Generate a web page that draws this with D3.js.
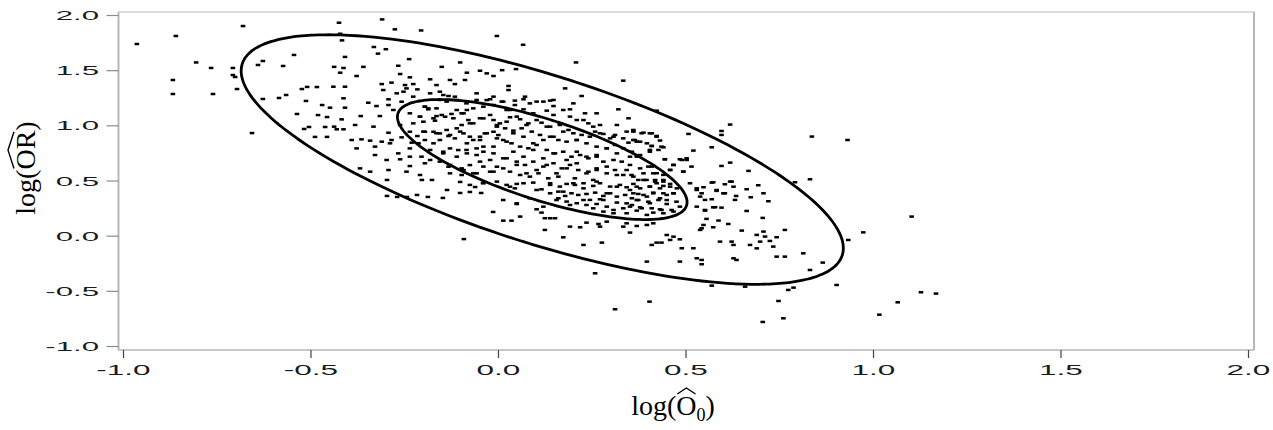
<!DOCTYPE html>
<html>
<head>
<meta charset="utf-8">
<script src="https://cdn.jsdelivr.net/npm/d3@7"></script>
<style>
  body { margin: 0; background: #fff; }
  svg { display: block; }
</style>
</head>
<body>
<div id="chart"></div>
<script>
// --- data ---
const xTicks = [-1.0, -0.5, 0.0, 0.5, 1.0, 1.5, 2.0];
const yTicks = [-1.0, -0.5, 0.0, 0.5, 1.0, 1.5, 2.0];

// [log(O0), log(OR)] pairs
const points = [
  [-0.963,1.737],[-0.859,1.810],[-0.680,1.900],[-0.805,1.570],[-0.765,1.520],[-0.867,1.411],[-0.867,1.284],[-0.760,1.284],
  [-0.707,1.520],[-0.707,1.456],[-0.701,1.438],[-0.696,1.329],[-0.640,1.547],[-0.627,1.583],[-0.573,1.538],[-0.544,1.638],
  [-0.627,1.239],[-0.584,1.248],[-0.565,1.275],[-0.523,1.329],[-0.509,1.348],[-0.512,1.221],[-0.536,1.103],[-0.504,0.985],
  [-0.517,0.967],[-0.656,0.930],
  [-0.483,1.347],[-0.469,1.184],[-0.480,1.093],[-0.456,1.075],[-0.461,0.985],[-0.488,0.895],[-0.456,0.895],
  [-0.424,1.93],[-0.309,1.96],[-0.275,1.87],[-0.205,1.86],[-0.421,1.83],[-0.416,1.77],[-0.003,1.81],[-0.331,1.71],
  [-0.299,1.69],[-0.32,1.65],[-0.237,1.60],[-0.408,1.62],[0.067,1.73],[0.208,1.57],[0.011,1.50],[0.048,1.51],
  [-0.437,1.53],[-0.412,1.52],[-0.359,1.53],[-0.266,1.54],[-0.150,1.53],[-0.101,1.57],
  [-0.421,1.477],[-0.377,1.447],[-0.261,1.465],[-0.235,1.435],[-0.181,1.417],[-0.128,1.411],[-0.115,1.374],[-0.088,1.411],
  [-0.083,1.477],[-0.048,1.495],[-0.030,1.471],[-0.012,1.447],
  [-0.439,1.350],[-0.408,1.350],[-0.310,1.374],[-0.284,1.387],[-0.306,1.320],[-0.248,1.365],[-0.226,1.374],[-0.244,1.335],
  [-0.215,1.326],[-0.270,1.290],[-0.252,1.305],[-0.226,1.260],[-0.181,1.290],[-0.164,1.365],[-0.155,1.305],[-0.146,1.275],
  [-0.132,1.266],[-0.115,1.260],[-0.057,1.290],[-0.030,1.229],[-0.012,1.260],
  [-0.412,1.245],[-0.346,1.205],[-0.292,1.236],[-0.257,1.214],[-0.292,1.184],[-0.448,1.160],[-0.408,1.160],[-0.324,1.175],
  [-0.279,1.139],[-0.195,1.169],[-0.186,1.145],[-0.164,1.154],[-0.141,1.078],[-0.124,1.103],[-0.110,1.139],[-0.097,1.109],
  [-0.083,1.139],[-0.066,1.154],[-0.039,1.169],[-0.012,1.184],
  [-0.235,1.109],[-0.208,1.078],[-0.226,1.018],[-0.199,1.033],[-0.168,1.042],[-0.164,1.084],[-0.366,1.084],[-0.315,1.084],
  [-0.417,1.054],[-0.437,0.988],[-0.381,1.003],[-0.332,0.988],[-0.292,0.933],[-0.261,1.003],[-0.235,0.942],[-0.215,0.903],
  [-0.195,0.942],[-0.172,0.942],[-0.155,0.927],[-0.137,0.958],[-0.110,0.973],[-0.097,1.003],[-0.079,1.048],[-0.066,1.018],
  [-0.039,1.063],[-0.012,1.048],[-0.003,1.003],
  [-0.430,0.964],[-0.412,0.964],[-0.390,0.867],[-0.364,0.873],[-0.341,0.861],[-0.310,0.852],[-0.284,0.867],[-0.257,0.891],
  [-0.230,0.843],[-0.235,0.791],[-0.212,0.837],[-0.195,0.867],[-0.172,0.837],[-0.155,0.867],[-0.132,0.903],[-0.115,0.882],
  [-0.092,0.927],[-0.083,0.837],[-0.066,0.867],[-0.048,0.897],[-0.035,0.927],[-0.012,0.942],[0.001,0.912],
  [-0.377,0.791],[-0.328,0.807],[-0.288,0.837],[-0.266,0.746],[-0.235,0.716],[-0.204,0.716],[-0.181,0.686],[-0.146,0.761],
  [-0.128,0.791],[-0.106,0.776],[-0.083,0.746],[-0.057,0.791],[-0.039,0.761],[-0.012,0.807],
  [-0.328,0.731],[-0.297,0.686],[-0.261,0.692],[-0.235,0.631],[-0.195,0.656],[-0.155,0.671],[-0.132,0.625],[-0.097,0.610],
  [-0.075,0.640],[-0.048,0.671],[-0.021,0.686],[-0.003,0.625],
  [-0.368,0.610],[-0.341,0.580],[-0.292,0.595],[-0.244,0.580],[-0.208,0.550],[-0.128,0.565],[-0.097,0.550],[-0.057,0.565],
  [-0.021,0.580],
  [-0.296,0.505],[-0.203,0.505],[-0.176,0.505],[-0.296,0.360],[-0.269,0.351],[-0.243,0.351],[-0.216,0.369],[-0.187,0.351],
  [-0.147,0.342],[-0.136,0.414],[-0.101,0.387],[-0.075,0.396],[-0.045,0.387],[-0.101,0.487],[-0.075,0.460],[-0.061,0.441],
  [-0.040,0.478],[-0.013,0.215],
  [0.028,1.357],[0.028,1.320],[0.179,1.335],[0.334,1.405],[0.223,1.266],[0.072,1.260],[0.103,1.215],[0.139,1.224],
  [0.148,1.175],[0.045,1.224],[0.045,1.184],[0.014,1.215],[0.023,1.139],[0.068,1.145],[0.094,1.109],[0.130,1.133],
  [0.148,1.094],[0.192,1.145],[0.232,1.109],[0.263,1.109],[0.321,1.145],[0.348,1.064],[0.423,1.133],[0.210,1.048],
  [0.241,1.018],[0.272,1.003],[0.317,1.003],[0.361,0.958],[0.388,0.934],[0.032,1.073],[0.059,1.055],[0.081,1.018],
  [0.116,1.024],[0.139,0.988],[0.165,1.003],[0.188,0.958],[0.201,0.928],[0.223,0.913],[0.259,0.943],[0.281,0.922],
  [0.299,0.882],[0.312,0.913],[0.334,0.882],[0.348,0.843],[0.370,0.852],[0.397,0.837],[0.005,1.018],[0.019,0.973],
  [0.041,0.952],[0.063,0.973],[0.090,0.943],[0.112,0.913],[0.139,0.897],[0.161,0.867],[0.183,0.852],[0.210,0.867],
  [0.236,0.837],[0.263,0.807],[0.290,0.792],[0.312,0.822],[0.334,0.792],[0.357,0.761],[0.379,0.731],[0.405,0.761],
  [0.014,0.867],[0.036,0.837],[0.059,0.807],[0.081,0.792],[0.103,0.822],[0.130,0.777],[0.152,0.746],[0.174,0.761],
  [0.196,0.716],[0.219,0.731],[0.241,0.701],[0.263,0.716],[0.281,0.671],[0.308,0.686],[0.330,0.671],[0.352,0.641],
  [0.379,0.610],[0.401,0.626],[0.023,0.701],[0.050,0.671],[0.072,0.641],[0.094,0.671],[0.121,0.626],[0.148,0.656],
  [0.170,0.610],[0.192,0.641],[0.214,0.595],[0.241,0.580],[0.263,0.610],[0.290,0.565],[0.312,0.595],[0.334,0.550],
  [0.361,0.535],[0.388,0.505],[0.032,0.580],[0.059,0.550],[0.085,0.535],[0.108,0.565],[0.134,0.520],[0.161,0.535],
  [0.205,0.520],[0.254,0.505],
  [0.023,0.460],[0.050,0.469],[0.094,0.481],[0.139,0.475],[0.165,0.445],[0.183,0.469],[0.205,0.460],[0.228,0.475],
  [0.254,0.451],[0.272,0.475],[0.299,0.445],[0.325,0.460],[0.343,0.439],[0.361,0.469],[0.379,0.429],[0.405,0.445],
  [0.423,0.475],[0.441,0.451],[0.459,0.469],[0.477,0.429],[0.512,0.475],[0.530,0.429],[0.045,0.429],[0.116,0.420],
  [0.139,0.384],[0.161,0.399],[0.179,0.360],[0.196,0.384],[0.214,0.369],[0.236,0.378],[0.259,0.390],[0.281,0.360],
  [0.299,0.384],[0.317,0.354],[0.339,0.369],[0.357,0.339],[0.374,0.378],[0.397,0.354],[0.414,0.390],[0.432,0.339],
  [0.450,0.369],[0.468,0.384],[0.161,0.339],[0.245,0.324],[0.272,0.330],[0.183,0.309],[0.210,0.294],[0.236,0.278],
  [0.263,0.287],[0.290,0.263],[0.317,0.300],[0.334,0.248],[0.357,0.278],[0.379,0.257],[0.405,0.294],[0.432,0.239],
  [0.450,0.287],[0.468,0.218],[0.485,0.263],[0.281,0.218],[0.308,0.203],[0.343,0.203],[0.370,0.227],[0.397,0.188],
  [0.414,0.209],[0.441,0.203],[0.050,0.287],[0.103,0.239],
  [0.014,0.136],[0.036,0.136],[0.059,0.173],[0.116,0.209],[0.125,0.158],[0.139,0.158],[0.152,0.158],[0.192,0.082],
  [0.219,0.076],[0.236,0.118],[0.268,0.106],[0.272,0.082],[0.290,0.127],[0.334,0.082],[0.343,0.112],[0.352,0.028],
  [0.370,0.088],[0.397,0.097],[0.414,0.112],[0.450,0.006],[0.459,-0.039],[0.468,-0.009],[0.485,-0.033],[0.490,-0.114],
  [0.410,-0.084],[0.423,-0.063],[0.436,-0.063],[0.277,-0.063],[0.228,-0.084],[0.125,0.052],[0.174,-0.015],[0.397,-0.235],
  [0.485,-0.235],[0.259,-0.341],[0.530,-0.205],[0.539,0.052],[0.521,-0.114],
  [0.619,1.007],[0.596,0.949],[0.596,0.913],[0.508,0.922],[0.837,0.898],[0.405,0.928],[0.423,0.904],[0.432,0.862],
  [0.410,0.813],[0.441,0.801],[0.521,0.771],[0.570,0.801],[0.445,0.693],[0.468,0.641],[0.485,0.693],[0.503,0.686],
  [0.516,0.626],[0.619,0.662],[0.596,0.632],[0.668,0.587],[0.494,0.581],[0.459,0.596],[0.423,0.566],[0.410,0.626],
  [0.441,0.551],[0.832,0.511],[0.419,0.505],[0.441,0.505],[0.792,0.484],[0.574,0.484],[0.605,0.466],[0.623,0.490],
  [0.694,0.457],[0.663,0.421],[0.583,0.406],[0.605,0.384],[0.635,0.360],[0.632,0.324],[0.708,0.384],[0.674,0.348],
  [0.721,0.312],[0.548,0.439],[0.539,0.354],[0.552,0.324],[0.570,0.330],[0.552,0.233],[0.579,0.258],[0.596,0.254],
  [0.663,0.224],[0.706,0.161],[0.556,0.152],[0.588,0.137],[0.548,0.097],[0.574,0.076],[0.543,0.067],[0.614,0.106],
  [0.650,0.046],[0.708,0.037],[0.765,0.052],[0.690,0.007],[0.712,-0.008],[0.743,-0.014],
  [0.932,0.867],
  [1.103,0.173],[0.974,0.030],[0.934,-0.039],[0.814,-0.160],[0.866,-0.244],[0.832,-0.311],[0.903,-0.447],[0.788,-0.471],
  [0.774,-0.492],[0.748,-0.592],[0.761,-0.749],[0.706,-0.782],[0.404,-0.598],[1.017,-0.716],[1.066,-0.604],[1.128,-0.513],
  [1.168,-0.525],[0.699,-0.054],[0.725,-0.048],[0.734,-0.099],[0.765,-0.190],[0.743,-0.190],[0.690,-0.115],[0.672,-0.084],
  [0.623,-0.054],[0.592,-0.054],[0.628,-0.084],[0.628,-0.205],[0.636,-0.220],[0.543,-0.220],[0.543,-0.259],[0.570,-0.453],
  [0.659,-0.462],
  [-0.091,-0.031],[0.312,-0.667],
  // dense core, second pass
  [-0.195,1.169],[-0.186,1.154],[-0.155,1.230],[-0.137,1.215],[-0.110,1.230],[-0.084,1.199],[-0.057,1.230],[-0.021,1.236],
  [0.010,1.215],[0.032,1.139],[0.068,1.236],[0.085,1.199],[0.121,1.215],[0.148,1.230],[0.174,1.139],[0.201,1.199],
  [-0.208,1.079],[-0.172,1.064],[-0.150,1.094],[-0.119,1.064],[-0.092,1.109],[-0.075,1.018],[-0.048,1.064],[-0.021,1.094],
  [-0.003,0.988],[0.023,1.033],[0.050,1.079],[0.076,1.003],[0.103,1.048],[0.130,0.988],[0.165,1.018],[0.192,1.079],
  [0.228,1.048],[0.254,0.988],
  [-0.199,0.943],[-0.164,0.928],[-0.128,0.913],[-0.101,0.943],[-0.075,0.897],[-0.048,0.867],[-0.030,0.928],[-0.003,0.882],
  [0.023,0.852],[0.041,0.928],[0.068,0.897],[0.094,0.837],[0.121,0.867],[0.148,0.897],[0.174,0.943],[0.210,0.867],
  [0.245,0.897],[0.272,0.928],[0.308,0.897],[0.343,0.943],[0.365,0.867],
  [-0.181,0.777],[-0.146,0.746],[-0.110,0.716],[-0.084,0.777],[-0.057,0.731],[-0.039,0.807],[-0.012,0.746],[0.014,0.701],
  [0.041,0.761],[0.068,0.716],[0.094,0.777],[0.121,0.701],[0.148,0.746],[0.183,0.686],[0.210,0.761],[0.236,0.716],
  [0.263,0.731],[0.290,0.792],[0.317,0.746],[0.352,0.716],
  [-0.128,0.641],[-0.092,0.595],[-0.066,0.565],[-0.039,0.626],[-0.012,0.580],[0.014,0.610],[0.050,0.641],[0.076,0.565],
  [0.103,0.595],[0.130,0.641],[0.156,0.565],[0.183,0.610],[0.210,0.656],[0.236,0.565],[0.263,0.595],[0.290,0.626],
  [0.317,0.550],[0.343,0.595],
  [-0.039,0.475],[-0.003,0.490],[0.032,0.444],[0.068,0.475],[0.103,0.414],[0.139,0.460],[0.174,0.399],[0.201,0.475],
  [0.228,0.429],[0.263,0.490],[0.290,0.384],[0.317,0.444],[0.352,0.414],
  [0.014,0.323],[0.050,0.293],[0.085,0.339],[0.121,0.263],[0.156,0.323],[0.192,0.278],[0.228,0.323],[0.254,0.248],
  [0.281,0.323],[0.308,0.233],[0.343,0.293],[0.370,0.323],
  [0.361,0.943],[0.383,0.928],[0.410,0.928],[0.423,0.897],[0.361,0.867],[0.379,0.852],[0.410,0.813],[0.436,0.807],
  [0.405,0.777],[0.428,0.777],[0.370,0.716],[0.445,0.692],[0.468,0.641],[0.490,0.686],[0.503,0.701],[0.459,0.595],
  [0.494,0.580],[0.356,0.550],[0.388,0.565],[0.414,0.565],[0.374,0.505],[0.396,0.505],[0.419,0.490],[0.441,0.490],
  [0.370,0.444],[0.405,0.444],[0.432,0.429],[0.459,0.444],[0.361,0.384],[0.388,0.369],[0.414,0.384],[0.441,0.384],
  [0.468,0.384],[0.374,0.323],[0.401,0.308],[0.428,0.323],[0.450,0.323],[0.476,0.308],[0.352,0.263],[0.383,0.248],
  [0.410,0.248],[0.436,0.233],[0.463,0.233],[0.530,0.414],[0.543,0.384],[0.570,0.481],[0.583,0.414],[0.601,0.384],
  [0.619,0.490],[0.628,0.444],[0.530,0.263],[0.552,0.227],[0.574,0.257]
];

// bivariate normal fitted by eye: centre, standard deviations, correlation, coverage levels
const ellipseCenter = [0.118, 0.69];
const ellipseSD = [0.328, 0.462];
const ellipseRho = -0.71;
const ellipseLevels = [0.5, 0.95];

// --- layout ---
const W = 1273, H = 430;
const frame = { left: 118.5, right: 1254, top: 12, bottom: 350 };

const svg = d3.select("#chart").append("svg")
    .attr("width", W)
    .attr("height", H)
    .style("font-family", "'Liberation Sans', Arial, sans-serif");

const x = d3.scaleLinear().domain([-1, 2]).range([123, 1248]);
const y = d3.scaleLinear().domain([-1, 2]).range([346, 15]);

// frame
svg.append("rect")
    .attr("x", frame.left).attr("y", frame.top)
    .attr("width", frame.right - frame.left)
    .attr("height", frame.bottom - frame.top)
    .attr("fill", "none")
    .attr("stroke", "#c8c8c8")
    .attr("stroke-width", 1.2);
svg.append("line")
    .attr("x1", frame.left).attr("x2", frame.left)
    .attr("y1", frame.top).attr("y2", frame.bottom)
    .attr("stroke", "#b4b4b4").attr("stroke-width", 1.8);
svg.append("line")
    .attr("x1", frame.right).attr("x2", frame.right)
    .attr("y1", frame.top).attr("y2", frame.bottom)
    .attr("stroke", "#b4b4b4").attr("stroke-width", 1.8);

// y axis
const yAxis = svg.append("g")
    .attr("transform", `translate(${frame.left},0)`)
    .call(d3.axisLeft(y).tickValues(yTicks).tickSize(12).tickFormat(d => d.toFixed(1)));
yAxis.select(".domain").remove();
yAxis.selectAll(".tick line").attr("stroke", "#8a8a8a").attr("stroke-width", 1.2);
yAxis.selectAll(".tick text")
    .attr("x", null)
    .attr("dy", null)
    .attr("fill", "#1a1a1a")
    .style("font-size", "13px")
    .attr("transform", "translate(-19.5,4.6) scale(2.4,1)");

// x axis
const xAxis = svg.append("g")
    .attr("transform", `translate(0,${frame.bottom})`)
    .call(d3.axisBottom(x).tickValues(xTicks).tickSize(8).tickFormat(d => d.toFixed(1)));
xAxis.select(".domain")
    .attr("d", `M${frame.left},0H${frame.right}`)
    .attr("stroke", "#b4b4b4").attr("stroke-width", 1.2);
xAxis.selectAll(".tick line").attr("stroke", "#444").attr("stroke-width", 1.2);
xAxis.selectAll(".tick text")
    .attr("y", null)
    .attr("dy", null)
    .attr("fill", "#1a1a1a")
    .style("font-size", "15px")
    .attr("transform", "translate(0,25) scale(2.1,1)");

// ellipses
const angles = d3.range(0, 360, 2).map(a => a * Math.PI / 180);
const ellipseLine = d3.line().x(d => x(d[0])).y(d => y(d[1])).curve(d3.curveCardinalClosed);
ellipseLevels.forEach(p => {
    const k = Math.sqrt(-2 * Math.log(1 - p));
    const s = Math.sqrt(1 - ellipseRho * ellipseRho);
    const pts = angles.map(t => [
        ellipseCenter[0] + k * ellipseSD[0] * Math.cos(t),
        ellipseCenter[1] + k * ellipseSD[1] * (ellipseRho * Math.cos(t) + s * Math.sin(t))
    ]);
    svg.append("path")
        .attr("d", ellipseLine(pts))
        .attr("fill", "none")
        .attr("stroke", "#000")
        .attr("stroke-width", 2.8);
});

// points (small dashes)
svg.append("g")
    .selectAll("rect")
    .data(points)
    .join("rect")
    .attr("x", d => x(d[0]) - 2.3)
    .attr("y", d => y(d[1]) - 1.25)
    .attr("width", 4.6)
    .attr("height", 2.5)
    .attr("fill", "#000");

// axis titles with a hat drawn over chosen characters
function hat(parent, textNode, i0, i1, baseY, capH) {
    const a = textNode.getStartPositionOfChar(i0).x;
    const b = textNode.getEndPositionOfChar(i1).x;
    const top = baseY - capH - 8, bot = baseY - capH - 2;
    parent.append("path")
        .attr("d", `M${a + 1},${bot} L${(a + b) / 2},${top} L${b - 1},${bot}`)
        .attr("fill", "none").attr("stroke", "#000").attr("stroke-width", 1.4);
}

const titleFont = "'Liberation Serif', 'DejaVu Serif', serif";
const xt = svg.append("text")
    .attr("x", 673).attr("y", 415)
    .attr("text-anchor", "middle")
    .style("font-family", titleFont)
    .style("font-size", "28px");
xt.append("tspan").text("log(O");
xt.append("tspan").attr("dy", 6).style("font-size", "18px").text("0");
xt.append("tspan").attr("dy", -6).text(")");
hat(svg, xt.node(), 4, 4, 415, 19);

const yg = svg.append("g").attr("transform", "translate(35,168) rotate(-90)");
const yt = yg.append("text")
    .attr("x", 0).attr("y", 0)
    .attr("text-anchor", "middle")
    .style("font-family", titleFont)
    .style("font-size", "28px")
    .text("log(OR)");
hat(yg, yt.node(), 4, 5, 0, 19);
</script>
</body>
</html>
